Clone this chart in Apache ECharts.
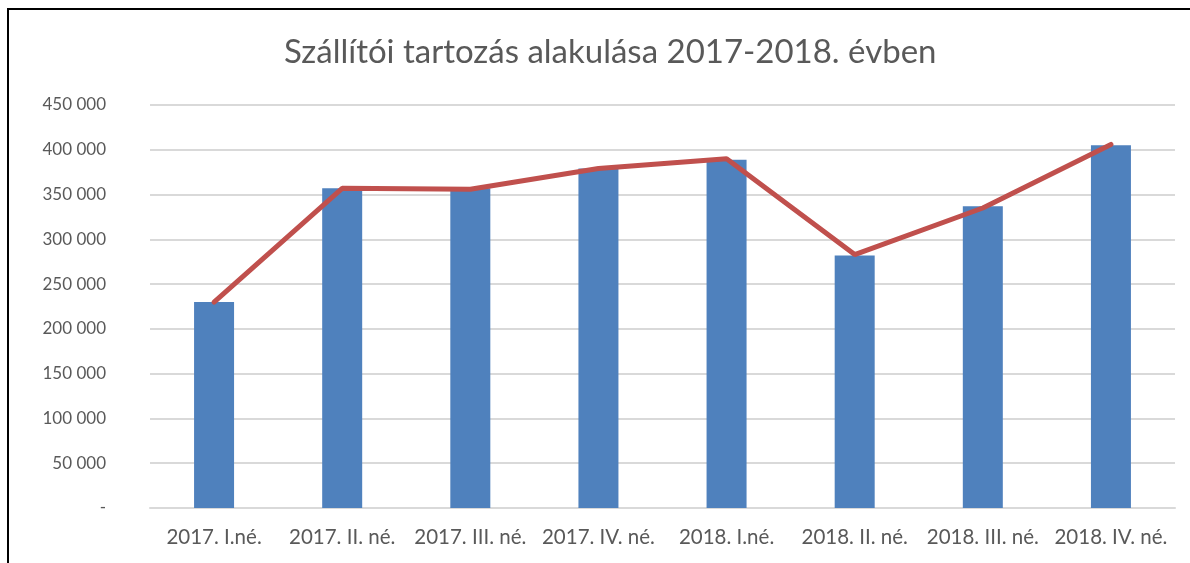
<!DOCTYPE html>
<html>
<head>
<meta charset="utf-8">
<script src="https://cdn.jsdelivr.net/npm/echarts@6/dist/echarts.min.js"></script>
<style>
  html, body { margin: 0; padding: 0; background: #fff; }
  #frame { position: absolute; left: 7px; top: 8px; width: 1183px; height: 555px;
           border-top: 2px solid #000; border-left: 2px solid #000; }
  #main { position: absolute; left: 0; top: 0; width: 1190px; height: 563px; }
</style>
</head>
<body>
<div id="frame"></div>
<div id="main"></div>
<script>
// negyedéves adatok
var categories = ['2017. I.né.', '2017. II. né.', '2017. III. né.', '2017. IV. né.',
                  '2018. I.né.', '2018. II. né.', '2018. III. né.', '2018. IV. né.'];
var barValues = [230000, 357000, 357000, 379000, 389000, 282000, 337000, 405000];
var lineValues = [230000, 357000, 356000, 379000, 390000, 283000, 335000, 406000];
var yTicks = [0, 50000, 100000, 150000, 200000, 250000, 300000, 350000, 400000, 450000];

function fmt(v) {
    if (v === 0) return '-';
    return String(v).replace(/\B(?=(\d{3})+(?!\d))/g, ' ');
}

var myChart = echarts.init(document.getElementById('main'));
var option = {
    animation: false,
    title: {
        text: 'Szállítói tartozás alakulása 2017-2018. évben',
        left: 279,
        top: 31,
        textStyle: { color: '#595959', fontSize: 33, fontWeight: 'normal', fontFamily: 'Lato' }
    },
    grid: { left: 150, right: 15, top: 105, bottom: 55 },
    xAxis: {
        type: 'category',
        data: categories,
        axisTick: { show: false },
        axisLine: { lineStyle: { color: '#d9d9d9', width: 2 } },
        axisLabel: { color: '#595959', fontSize: 20.5, fontFamily: 'Lato', margin: 19, interval: 0 }
    },
    yAxis: {
        type: 'value',
        min: yTicks[0],
        max: yTicks[yTicks.length - 1],
        interval: 50000,
        axisLine: { show: false },
        axisTick: { show: false },
        splitLine: { lineStyle: { color: '#d9d9d9', width: 2 } },
        axisLabel: { color: '#595959', fontSize: 17, fontFamily: 'Lato', margin: 44, formatter: fmt }
    },
    series: [{
        type: 'bar',
        data: barValues,
        barWidth: 40,
        itemStyle: { color: '#4f81bd' }
    }, {
        type: 'line',
        data: lineValues,
        symbol: 'none',
        lineStyle: { color: '#c0504d', width: 5, cap: 'round' }
    }]
};
myChart.setOption(option);
</script>
</body>
</html>
